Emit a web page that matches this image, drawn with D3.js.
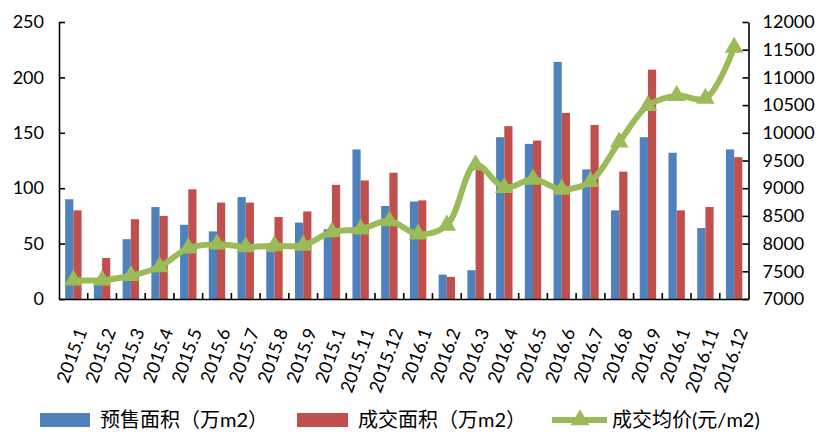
<!DOCTYPE html>
<html>
<head>
<meta charset="utf-8">
<script src="https://cdn.jsdelivr.net/npm/d3@7/dist/d3.min.js"></script>
<style>
  html, body { margin: 0; padding: 0; background: #fff; }
  svg { display: block; font-family: Lato, "Noto Sans CJK SC", sans-serif; }
</style>
</head>
<body>
<svg id="chart" width="818" height="432"></svg>
<script>
// Monthly labels (Excel trims the trailing zero of October)
const months = ["2015.1","2015.2","2015.3","2015.4","2015.5","2015.6","2015.7","2015.8","2015.9","2015.1","2015.11","2015.12",
                "2016.1","2016.2","2016.3","2016.4","2016.5","2016.6","2016.7","2016.8","2016.9","2016.1","2016.11","2016.12"];
// 预售面积 (万m2)
const presale = [90, 18, 54, 83, 67, 61, 92, 43, 69, 63, 135, 84, 88, 22, 26, 146, 140, 214, 117, 80, 146, 132, 64, 135];
// 成交面积 (万m2)
const deal = [80, 37, 72, 75, 99, 87, 87, 74, 79, 103, 107, 114, 89, 20, 120, 156, 143, 168, 157, 115, 207, 80, 83, 128];
// 成交均价 (元/m2)
const price = [7340, 7340, 7420, 7580, 7920, 7990, 7940, 7960, 7970, 8210, 8260, 8410, 8170, 8330, 9420, 9010, 9160, 8980, 9120, 9830, 10490, 10670, 10620, 11540];
const leftTicks = [0, 50, 100, 150, 200, 250];
const rightTicks = [7000, 7500, 8000, 8500, 9000, 9500, 10000, 10500, 11000, 11500, 12000];
const seriesNames = ["预售面积（万m2）", "成交面积（万m2）", "成交均价(元/m2)"];

const colors = { presale: "#4F81BD", deal: "#C0504D", price: "#9BBB59" };
const plot = { left: 59, right: 748.5, top: 22, bottom: 299 };
const barW = 8.2;

const svg = d3.select("#chart");

const x = d3.scaleBand().domain(d3.range(months.length)).range([plot.left, plot.right]).padding(0);
const xs = d3.scaleBand().domain(["presale", "deal"])
  .range([x.bandwidth() / 2 - barW, x.bandwidth() / 2 + barW]);
const yL = d3.scaleLinear().domain([0, 250]).range([plot.bottom, plot.top]);
const yR = d3.scaleLinear().domain([7000, 12000]).range([plot.bottom, plot.top]);

// Bars
const rows = months.map((m, i) => ({ i, presale: presale[i], deal: deal[i] }));
const groups = svg.append("g").selectAll("g").data(rows).join("g")
  .attr("transform", d => `translate(${x(d.i)},0)`);
groups.selectAll("rect").data(d => ["presale", "deal"].map(k => ({ k, v: d[k] }))).join("rect")
  .attr("x", d => xs(d.k))
  .attr("width", xs.bandwidth())
  .attr("y", d => yL(d.v))
  .attr("height", d => yL(0) - yL(d.v))
  .attr("fill", d => colors[d.k]);

// Left axis
const gL = svg.append("g").attr("transform", `translate(${plot.left},0)`)
  .call(d3.axisLeft(yL).tickValues(leftTicks).tickFormat(d3.format("d"))
    .tickSize(-6).tickSizeOuter(0).tickPadding(15));
// Right axis
const gR = svg.append("g").attr("transform", `translate(${plot.right},0)`)
  .call(d3.axisRight(yR).tickValues(rightTicks).tickFormat(d3.format("d"))
    .tickSize(-6).tickSizeOuter(0).tickPadding(14));
[gL, gR].forEach(g => {
  g.select(".domain").attr("stroke", "#000").attr("stroke-width", 1.6);
  g.selectAll(".tick line").attr("stroke", "#000").attr("stroke-width", 1.6);
  g.selectAll(".tick text").attr("font-size", 18).attr("font-family", "Lato").attr("fill", "#000");
});

// Bottom axis: labels at band centres, tick marks at band boundaries
const gB = svg.append("g").attr("transform", `translate(0,${plot.bottom})`)
  .call(d3.axisBottom(x).tickSize(0).tickSizeOuter(0).tickFormat(i => months[i]));
gB.select(".domain").attr("stroke", "#000").attr("stroke-width", 1.6);
gB.selectAll(".tick text")
  .attr("font-size", 18).attr("font-family", "Lato").attr("fill", "#000")
  .attr("x", 0).attr("y", 0).attr("dy", "0.35em")
  .attr("text-anchor", "end")
  .attr("transform", "translate(8,30) rotate(-70)");
svg.append("g").selectAll("line").data(d3.range(1, months.length)).join("line")
  .attr("x1", i => x(i)).attr("x2", i => x(i))
  .attr("y1", plot.bottom).attr("y2", plot.bottom - 6)
  .attr("stroke", "#000").attr("stroke-width", 1.6);

// Average price line (smoothed) with triangle markers
const cx = i => x(i) + x.bandwidth() / 2;
svg.append("path")
  .datum(price)
  .attr("fill", "none")
  .attr("stroke", colors.price)
  .attr("stroke-width", 6)
  .attr("stroke-linejoin", "round")
  .attr("d", d3.line().x((d, i) => cx(i)).y(d => yR(d)).curve(d3.curveCatmullRom.alpha(0.5)));
const tri = d3.symbol().type(d3.symbolTriangle).size(150);
svg.append("g").selectAll("path").data(price).join("path")
  .attr("transform", (d, i) => `translate(${cx(i)},${yR(d)})`)
  .attr("d", tri)
  .attr("fill", colors.price);

// Legend
const legend = svg.append("g").attr("font-size", 20).attr("fill", "#000");
legend.append("rect").attr("x", 40).attr("y", 413).attr("width", 50).attr("height", 14).attr("fill", colors.presale);
legend.append("text").attr("x", 100).attr("y", 420).attr("dy", "0.35em").text(seriesNames[0]);
legend.append("rect").attr("x", 297).attr("y", 413).attr("width", 51).attr("height", 14).attr("fill", colors.deal);
legend.append("text").attr("x", 358).attr("y", 420).attr("dy", "0.35em").text(seriesNames[1]);
legend.append("line").attr("x1", 552).attr("x2", 607).attr("y1", 420).attr("y2", 420)
  .attr("stroke", colors.price).attr("stroke-width", 6);
legend.append("path").attr("transform", "translate(580,420)").attr("d", tri).attr("fill", colors.price);
legend.append("text").attr("x", 612).attr("y", 420).attr("dy", "0.35em").text(seriesNames[2]);
</script>
</body>
</html>
